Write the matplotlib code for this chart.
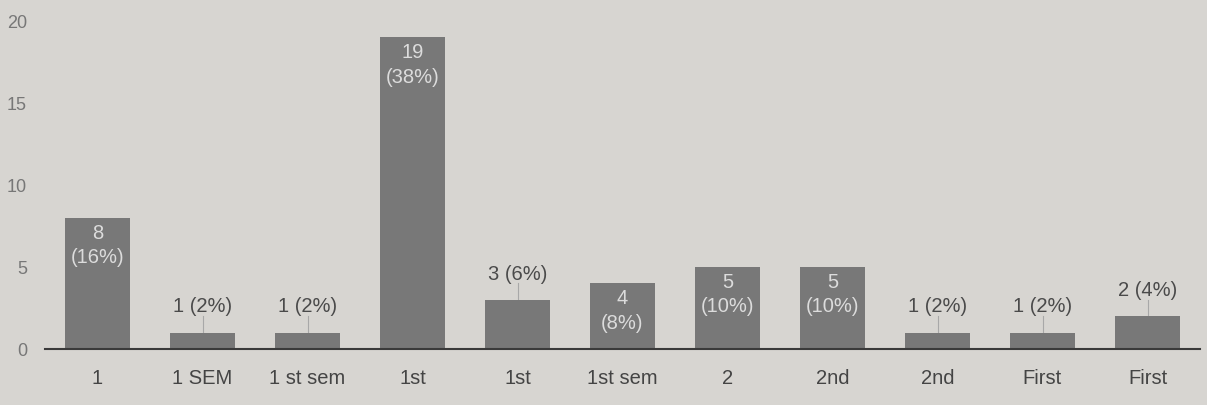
import matplotlib.pyplot as plt

categories = ['1', '1 SEM', '1 st sem', '1st', '1st', '1st sem', '2', '2nd', '2nd', 'First', 'First']
counts = [8, 1, 1, 19, 3, 4, 5, 5, 1, 1, 2]
percents = [16, 2, 2, 38, 6, 8, 10, 10, 2, 2, 4]

plt.rcParams['font.family'] = ['Liberation Sans', 'DejaVu Sans']

fig = plt.figure(figsize=(12.07, 4.06), dpi=100, facecolor='#d7d5d1')
ax = fig.add_axes([45 / 1207, 56 / 406, 1155 / 1207, 328 / 406])
ax.set_facecolor('#d7d5d1')

x = range(len(categories))
bars = ax.bar(x, counts, width=0.62, color='#787878', zorder=2)

for i, (c, p) in enumerate(zip(counts, percents)):
    if c >= 4:
        # label inside the bar
        ax.text(i, c - 0.3, f'{c}\n({p}%)', ha='center', va='top',
                color='#dcdcdc', fontsize=14.5, linespacing=1.35, zorder=3)
    else:
        # label above with leader line
        ax.plot([i, i], [c, c + 1.0], color='#a8a8a8', lw=0.8, zorder=1)
        ax.text(i, c + 1.05, f'{c} ({p}%)', ha='center', va='bottom',
                color='#4a4a4a', fontsize=14.5)

ax.set_xlim(-0.5, 10.5)
ax.set_ylim(0, 20)
ax.set_yticks([0, 5, 10, 15, 20])
ax.set_xticks(list(x))
ax.set_xticklabels(categories, fontsize=14.5, color='#444444')
ax.tick_params(axis='x', length=0, pad=14)
ax.tick_params(axis='y', length=0, pad=13, labelsize=13, labelcolor='#777777')

for s in ['top', 'right', 'left']:
    ax.spines[s].set_visible(False)
ax.spines['bottom'].set_color('#3a3a3a')
ax.spines['bottom'].set_linewidth(1.5)

fig.savefig('out.png', dpi=100, facecolor=fig.get_facecolor())
